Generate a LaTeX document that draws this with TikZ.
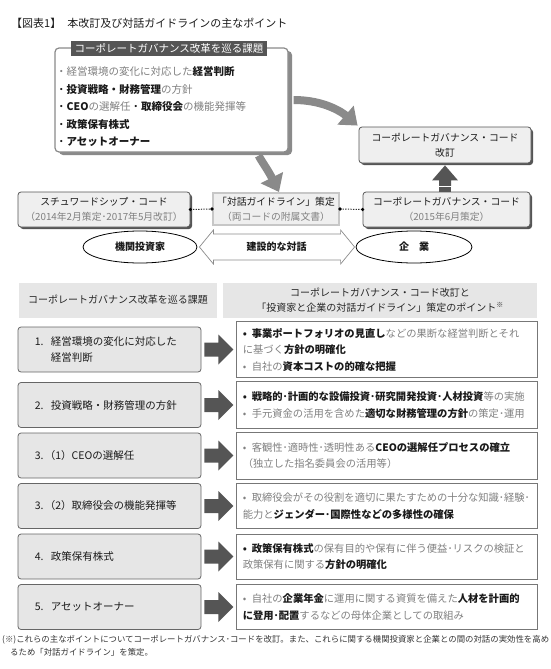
\documentclass[tikz,border=0pt]{standalone}
\usepackage{fontspec}
\setmainfont{Noto Sans CJK JP}
\usetikzlibrary{arrows.meta,calc,shapes.geometric,shadows}
\definecolor{tg}{HTML}{808080}
\definecolor{tk}{HTML}{1A1A1A}
\definecolor{dk}{HTML}{555555}
\definecolor{ag}{HTML}{8A8A8A}
\definecolor{bf}{HTML}{E6E6E6}
\definecolor{mf}{HTML}{EFEFEF}
\newcommand\gr[1]{{\color{tg}#1}}
\newcommand\bk[1]{{\color{tk}\bfseries #1}}
\begin{document}
\begin{tikzpicture}[x=1pt,y=-1pt,
  every node/.style={inner sep=0pt, text=tk},
  fs/.style={font=\fontsize{#1}{#1}\selectfont},
  midbox/.style={draw=dk, line width=0.8pt, fill=mf, rounded corners=3pt, align=center,
    font=\fontsize{9.8}{15}\selectfont,
    drop shadow={shadow xshift=2pt, shadow yshift=-2pt, opacity=1, fill=dk}},
  lbox/.style={draw=dk!90, line width=0.8pt, fill=bf, rounded corners=3pt,
    minimum width=183pt, minimum height=45pt},
  rbox/.style={draw=dk!80, line width=0.8pt, fill=white, minimum width=301pt},
  ltext/.style={align=left, anchor=west, font=\fontsize{10.5}{16}\selectfont},
  rtext/.style={align=left, anchor=west, font=\fontsize{10.3}{16.5}\selectfont},
  hdr/.style={fill=bf, minimum height=35pt, align=center, font=\fontsize{10}{15}\selectfont, text=black!85},
]
\useasboundingbox (0,0) rectangle (550,669);

% title
\node[anchor=west, fs=11] (title) at (11,23) {【図表1】\hspace{6pt}本改訂及び対話ガイドラインの主なポイント};

% top box
\node[draw=ag, line width=1.2pt, fill=white, rounded corners=4pt, minimum width=233pt, minimum height=104pt,
  drop shadow={shadow xshift=4pt, shadow yshift=-3pt, opacity=1, fill=ag}] (topbox) at (171.5,100) {};
\node[fill=dk, text=white, minimum width=196pt, minimum height=15pt, fs=10.5] (tab) at (169,48.5) {コーポレートガバナンス改革を巡る課題};
\node[anchor=west, align=left, font=\fontsize{10.5}{17.5}\selectfont] (items) at (56,107) {%
\gr{・経営環境の変化に対応した}\bk{経営判断}\\
・\bk{投資戦略・財務管理}\gr{の方針}\\
・\bk{CEO}\gr{の選解任}・\bk{取締役会}\gr{の機能発揮等}\\
・\bk{政策保有株式}\\
・\bk{アセットオーナー}};

% upper right box
\node[midbox, minimum width=172pt, minimum height=36pt] (cgrev) at (445,145) {コーポレートガバナンス・コード\\改訂};

% middle row
\node[midbox, minimum width=172pt, minimum height=35pt] (stew) at (104,209.5) {スチュワードシップ・コード\\\gr{（2014年2月策定･2017年5月改訂）}};
\node[draw=black!22, line width=2pt, fill=mf, minimum width=126pt, minimum height=32pt, align=center,
  font=\fontsize{9.8}{15}\selectfont] (guide) at (276,209) {「対話ガイドライン」策定\\\gr{（両コードの附属文書）}};
\node[midbox, minimum width=167pt, minimum height=35pt] (cg) at (446.5,209.5) {コーポレートガバナンス・コード\\\gr{（2015年6月策定）}};

% arrows from top box
\draw[ag, line width=8pt, -{Triangle[length=16pt,width=24pt]}]
  ($(topbox.east)+(5,0)$) .. controls (325,100) and (343,113) .. ($(cgrev.north west)+(-1,-1)$);
\draw[ag, line width=8pt, -{Triangle[length=16pt,width=24pt]}]
  ($(topbox.south east)+(-30,3)$) .. controls (262,162) and (268,170) .. ($(guide.north)+(3,0)$);

% up arrow
\fill[dk] ($(cgrev.south)+(0,2)$) -- ++(13,15) -- ++(-7,0) -- ++(0,5.5) -- ++(-12,0) -- ++(0,-5.5) -- ++(-7,0) -- cycle;
\fill[dk] ($(cgrev.south)+(-6,24)$) rectangle ($(cg.north)+(4.5,0)$);

% dotted links
\draw[line width=1pt, dash pattern=on 1.3pt off 1.3pt, black!80] (stew.east) -- (guide.west);
\draw[line width=1pt, dash pattern=on 1.3pt off 1.3pt, black!80] (guide.east) -- (cg.west);
\foreach \p in {stew.east, guide.west, guide.east, cg.west} \fill[black] (\p) circle (1.8pt);

% ellipses
\node[ellipse, draw=black, line width=0.8pt, fill=white, minimum width=114pt, minimum height=32pt, fs=10] (inv) at (140,247) {\bfseries 機関投資家};
\node[ellipse, draw=black, line width=0.8pt, fill=white, minimum width=116pt, minimum height=32pt, fs=10] (comp) at (414,247) {\bfseries 企\hspace{1em}業};
\draw[black!45, line width=0.7pt, fill=white]
  ($(inv.east)+(2,0)$) -- ++(14,-17) -- ++(0,4) -- ($(comp.west)+(-15,-13)$) -- ++(0,-4) -- ($(comp.west)+(-1,0)$)
  -- ++(-14,17) -- ++(0,-4) -- ($(inv.east)+(16,13)$) -- ++(0,4) -- cycle;
\node[fs=10] (dialog) at ($(inv.east)!0.5!(comp.west)$) {\bfseries 建設的な対話};

% headers
\node[hdr, minimum width=198pt] (hl) at (118,300) {コーポレートガバナンス改革を巡る課題};
\node[hdr, minimum width=314pt] (hr) at (380,300) {コーポレートガバナンス・コード改訂と\\「投資家と企業の対話ガイドライン」策定のポイント\textsuperscript{※}};

% rows
\newcommand\myrow[5]{%
  \node[lbox] (l#1) at (109.5,#2) {};
  \node[ltext] at ($(l#1.west)+(17,0)$) {#3};
  \node[rbox, minimum height=#5] (r#1) at (386.5,#2) {};
  \node[rtext] at ($(r#1.west)+(7,0)$) {#4};
  \fill[dk] ($(l#1.east)+(3,-7)$) -- ++(14,0) -- ++(0,-8) -- ++(15,15) -- ++(-15,15) -- ++(0,-8) -- ++(-14,0) -- cycle;
}
\newcommand\bul{\makebox[9pt][l]{•}}
\newcommand\num[2][16pt]{\makebox[#1][l]{#2}}

\myrow{a}{349.5}{\num{1.}経営環境の変化に対応した\\\hspace*{16pt}経営判断}
  {\bk{\bul 事業ポートフォリオの見直し}\gr{などの果断な経営判断とそれ}\\\gr{に基づく}\bk{方針の明確化}\\\gr{\bul 自社の}\bk{資本コストの的確な把握}}{56pt}
\myrow{b}{405}{\num{2.}投資戦略・財務管理の方針}
  {\bk{\bul 戦略的･計画的な設備投資･研究開発投資･人材投資}\gr{等の実施}\\\gr{\bul 手元資金の活用を含めた}\bk{適切な財務管理の方針}\gr{の策定･運用}}{47pt}
\myrow{c}{455.5}{\num[10pt]{3.}（1）CEOの選解任}
  {\gr{\bul 客観性･適時性･透明性ある}\bk{CEOの選解任プロセスの確立}\\\gr{（独立した指名委員会の活用等）}}{47pt}
\myrow{d}{506}{\num[10pt]{3.}（2）取締役会の機能発揮等}
  {\gr{\bul 取締役会がその役割を適切に果たすための十分な知識･経験･}\\\gr{能力と}\bk{ジェンダー･国際性などの多様性の確保}}{45pt}
\myrow{e}{556.5}{\num{4.}政策保有株式}
  {\bk{\bul 政策保有株式}\gr{の保有目的や保有に伴う便益･リスクの検証と}\\\gr{政策保有に関する}\bk{方針の明確化}}{45pt}
\myrow{f}{607}{\num{5.}アセットオーナー}
  {\gr{\bul 自社の}\bk{企業年金}\gr{に運用に関する資質を備えた}\bk{人材を計画的}\\\bk{に登用･配置}\gr{するなどの母体企業としての取組み}}{45pt}

% footnote
\node[anchor=north west, align=left, font=\fontsize{8.4}{13.5}\selectfont, text=black!80] (note) at (2,635)
  {(※)これらの主なポイントについてコーポレートガバナンス･コードを改訂。また、これらに関する機関投資家と企業との間の対話の実効性を高め\\\hspace*{8pt}るため「対話ガイドライン」を策定。};
\end{tikzpicture}
\end{document}
